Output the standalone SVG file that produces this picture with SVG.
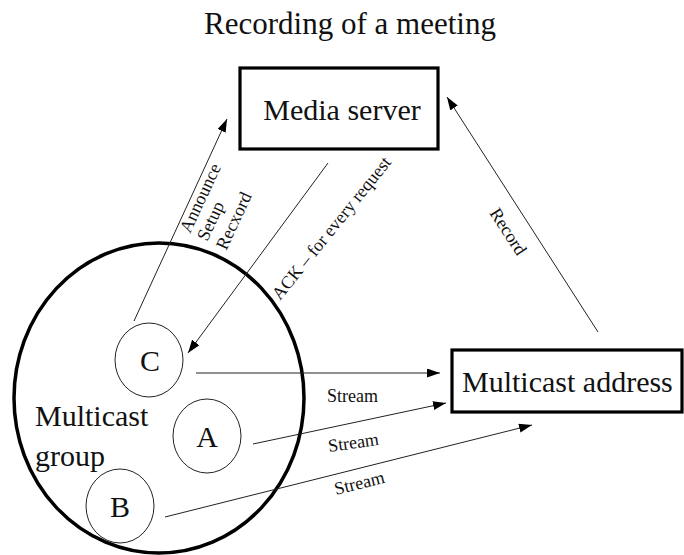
<svg xmlns="http://www.w3.org/2000/svg" width="684" height="555" viewBox="0 0 684 555">
  <style>
    text { font-family: "Liberation Serif", "Times New Roman", serif; fill: #111; }
    .title { font-size: 31px; }
    .big { font-size: 30px; }
    .lbl { font-size: 18px; }
    .box { fill: #fff; stroke: #000; stroke-width: 3.2; }
    .group { fill: none; stroke: #000; stroke-width: 3.5; }
    .member { fill: #fff; stroke: #222; stroke-width: 1; }
    .conn line { stroke: #222; stroke-width: 1; }
  </style>
  <defs>
    <marker id="arrow" markerUnits="userSpaceOnUse" markerWidth="14" markerHeight="10" refX="13" refY="4.5" orient="auto">
      <path d="M0,0 L13,4.5 L0,9 z" fill="#000"/>
    </marker>
  </defs>

  <rect width="684" height="555" fill="#fff"/>

  <text class="title" x="350" y="34" text-anchor="middle">Recording of a meeting</text>

  <!-- multicast group -->
  <g id="multicast-group">
    <ellipse class="group" cx="159" cy="398" rx="145" ry="155"/>
    <text class="big" x="35" y="426">Multicast</text>
    <text class="big" x="35" y="466">group</text>
  </g>

  <g id="node-c">
    <ellipse class="member" cx="149" cy="360" rx="34" ry="37"/>
    <text class="big" x="150" y="371" text-anchor="middle">C</text>
  </g>
  <g id="node-a">
    <ellipse class="member" cx="207" cy="436" rx="34" ry="37"/>
    <text class="big" x="207" y="447" text-anchor="middle">A</text>
  </g>
  <g id="node-b">
    <ellipse class="member" cx="120" cy="506" rx="34" ry="37"/>
    <text class="big" x="120" y="517" text-anchor="middle">B</text>
  </g>

  <g id="media-server">
    <rect class="box" x="240" y="68" width="198" height="81"/>
    <text class="big" x="342" y="120" text-anchor="middle">Media server</text>
  </g>

  <g id="multicast-address">
    <rect class="box" x="452" y="350" width="230" height="62"/>
    <text class="big" x="462" y="392">Multicast address</text>
  </g>

  <!-- connectors -->
  <g class="conn" id="connectors">
    <line x1="134" y1="321" x2="227" y2="119" marker-end="url(#arrow)"/>
    <line x1="328" y1="163" x2="188" y2="353" marker-end="url(#arrow)"/>
    <line x1="196" y1="373" x2="440" y2="373" marker-end="url(#arrow)"/>
    <line x1="253" y1="444" x2="446" y2="403" marker-end="url(#arrow)"/>
    <line x1="165" y1="517" x2="532" y2="425" marker-end="url(#arrow)"/>
    <line x1="598" y1="332" x2="447" y2="97" marker-end="url(#arrow)"/>
  </g>

  <!-- connector labels -->
  <g id="labels">
    <g transform="translate(190,234) rotate(-65)">
      <text class="lbl" x="0" y="0">Announce</text>
      <text class="lbl" x="0" y="19">Setup</text>
      <text class="lbl" x="0" y="40">Recxord</text>
    </g>
    <text class="lbl" transform="translate(280,301) rotate(-51)">ACK – for every request</text>
    <text class="lbl" transform="translate(489,213) rotate(57)">Record</text>
    <text class="lbl" x="327" y="402">Stream</text>
    <text class="lbl" transform="translate(329,452) rotate(-8)">Stream</text>
    <text class="lbl" transform="translate(336,495) rotate(-14)">Stream</text>
  </g>
</svg>
